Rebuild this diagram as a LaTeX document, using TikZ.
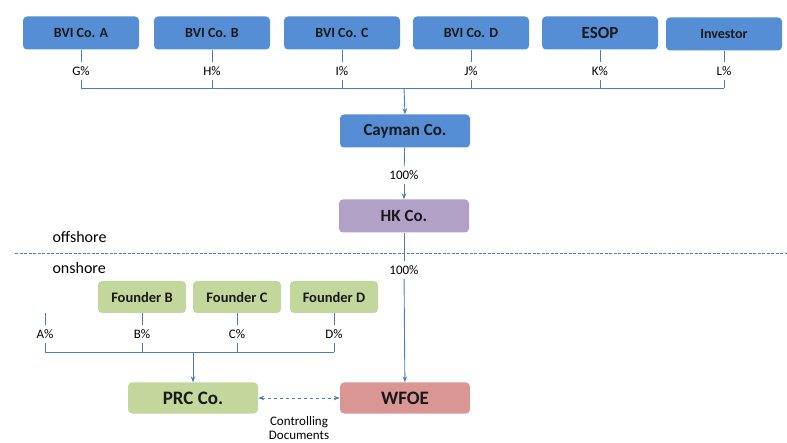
\documentclass[tikz,border=0pt]{standalone}
\usepackage{fontspec}
\setmainfont{Carlito}
\usetikzlibrary{arrows.meta}
\definecolor{boxblue}{RGB}{85,142,213}
\definecolor{boxpurple}{RGB}{178,161,199}
\definecolor{boxgreen}{RGB}{195,214,155}
\definecolor{boxred}{RGB}{217,150,148}
\definecolor{linkblue}{RGB}{74,126,187}
\begin{document}
\begin{tikzpicture}[x=1pt,y=-1pt,
    box/.style={rounded corners=4pt, inner sep=0pt, text=black!90, font=\bfseries},
    topbox/.style={box, fill=boxblue, minimum width=116pt, minimum height=33pt, font=\fontsize{14}{16}\selectfont\bfseries},
    midbox/.style={box, minimum width=130pt, minimum height=33pt, font=\fontsize{17}{19}\selectfont\bfseries},
    founder/.style={box, fill=boxgreen, minimum width=88pt, minimum height=32pt, font=\fontsize{14.5}{16}\selectfont\bfseries},
    lowbox/.style={box, minimum width=130pt, minimum height=31pt, font=\fontsize{19}{21}\selectfont\bfseries},
    pct/.style={inner sep=4pt, font=\fontsize{13}{15}\selectfont},
    ln/.style={draw=linkblue, line width=0.9pt},
    arr/.style={ln, -{Stealth[length=6pt,width=4.5pt]}}]
  \useasboundingbox (0,0) rectangle (787,443);

  % shareholders of Cayman Co.
  \node[topbox] (bvia) at (81,33) {BVI Co. A};
  \node[topbox] (bvib) at (212,33) {BVI Co. B};
  \node[topbox] (bvic) at (342,33) {BVI Co. C};
  \node[topbox] (bvid) at (471,33) {BVI Co. D};
  \node[topbox, font=\fontsize{17}{19}\selectfont\bfseries] (esop) at (600,33) {ESOP};
  \node[topbox] (inv) at (724,34) {Investor};

  \node[pct] (pg) at (81,71) {G\%};
  \node[pct] (ph) at (212,71) {H\%};
  \node[pct] (pi) at (342,71) {I\%};
  \node[pct] (pj) at (471,71) {J\%};
  \node[pct] (pk) at (600,71) {K\%};
  \node[pct] (pl) at (724,71) {L\%};

  \coordinate (ba) at (81,88);
  \coordinate (bb) at (212,88);
  \coordinate (bc) at (342,88);
  \coordinate (bd) at (471,88);
  \coordinate (be) at (600,88);
  \coordinate (bf) at (724,88);
  \coordinate (btop) at (404,88);

  \draw[ln] (bvia) -- (pg) (pg) -- (ba);
  \draw[ln] (bvib) -- (ph) (ph) -- (bb);
  \draw[ln] (bvic) -- (pi) (pi) -- (bc);
  \draw[ln] (bvid) -- (pj) (pj) -- (bd);
  \draw[ln] (esop) -- (pk) (pk) -- (be);
  \draw[ln] (inv) -- (pl) (pl) -- (bf);
  \draw[ln] (ba) -- (bf);

  % offshore chain
  \node[midbox, fill=boxblue] (cay) at (405,131) {Cayman Co.};
  \node[midbox, fill=boxpurple] (hk) at (404,216) {HK Co.};
  \node[pct] (pcay) at (404,175) {100\%};
  \node[pct] (phk) at (404,270) {100\%};
  \draw[arr] (btop) -- (cay.north);
  \draw[ln] (cay) -- (pcay);
  \draw[arr] (pcay) -- (hk);

  % offshore / onshore border
  \coordinate (sl) at (15,253);
  \coordinate (sr) at (787,253);
  \draw[draw=linkblue, line width=0.7pt, dash pattern=on 3pt off 1.5pt] (sl) -- (sr);
  \node[anchor=west, font=\fontsize{16}{18}\selectfont] (off) at (49,237) {offshore};
  \node[anchor=west, font=\fontsize{16}{18}\selectfont] (on) at (49,268) {onshore};

  % onshore
  \node[founder] (fb) at (142,297) {Founder B};
  \node[founder] (fc) at (237,297) {Founder C};
  \node[founder] (fd) at (334,297) {Founder D};
  \coordinate (fa) at (45,313);

  \node[pct] (pa) at (45,334) {A\%};
  \node[pct] (pb) at (142,334) {B\%};
  \node[pct] (pc) at (237,334) {C\%};
  \node[pct] (pd) at (334,334) {D\%};

  \coordinate (qa) at (45,352);
  \coordinate (qb) at (142,352);
  \coordinate (qc) at (237,352);
  \coordinate (qd) at (334,352);
  \coordinate (qprc) at (193,352);

  \draw[ln] (fa) -- (pa.north) (pa) -- (qa);
  \draw[ln] (fb) -- (pb) (pb) -- (qb);
  \draw[ln] (fc) -- (pc) (pc) -- (qc);
  \draw[ln] (fd) -- (pd) (pd) -- (qd);
  \draw[ln] (qa) -- (qd);

  \node[lowbox, fill=boxgreen] (prc) at (193,398) {PRC Co.};
  \node[lowbox, fill=boxred] (wfoe) at (405,398) {WFOE};
  \draw[arr] (qprc) -- (prc.north);
  \draw[ln] (hk) -- (phk);
  \draw[arr] (phk) -- (wfoe);
  \draw[ln, dashed, {Stealth[length=6pt,width=4.5pt]}-{Stealth[length=6pt,width=4.5pt]}] (prc) -- (wfoe);
  \node[align=center, font=\fontsize{13}{14}\selectfont, inner sep=0pt] (ctrl) at (299,428) {Controlling\\Documents};
\end{tikzpicture}
\end{document}
